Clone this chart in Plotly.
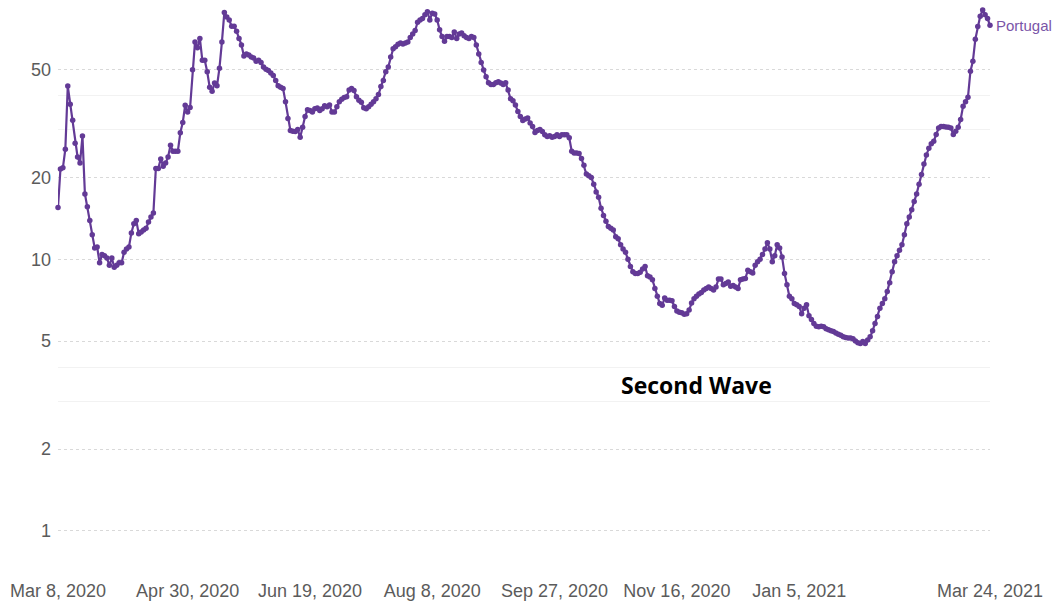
import numpy as np
import pandas as pd
import plotly.graph_objects as go

start_date = "2020-03-08"
country = "Portugal"
values = [
    15.5, 21.5, 21.7, 25.4, 43.4, 37.2, 32.5, 26.7, 23.8, 22.6,
    28.4, 17.4, 15.6, 13.9, 12.3, 11.0, 11.1, 9.7, 10.4, 10.3,
    10.1, 9.5, 10.1, 9.35, 9.5, 9.7, 9.7, 10.6, 10.9, 11.1,
    12.5, 13.5, 13.9, 12.4, 12.6, 12.8, 13.0, 13.7, 14.3, 14.8,
    21.6, 21.6, 23.4, 22.0, 22.6, 23.8, 26.3, 25.0, 25.0, 25.0,
    29.2, 31.9, 36.9, 34.8, 36.2, 49.8, 63, 60, 65, 54,
    54, 49, 43, 41.5, 44.5, 43.5, 50.5, 63, 81, 78,
    76, 72, 72, 69, 65, 61.5, 56, 57, 56.5, 55.5,
    55, 53.5, 54, 53, 51, 50, 49.5, 48.5, 47.5, 45.5,
    43.5, 43, 42.5, 38, 33, 29.8, 29.6, 29.5, 30, 28.1,
    30.6, 33.5, 35.5, 35.3, 34.8, 35.8, 36, 35.3, 35.8, 36.7,
    36.4, 37, 34.8, 34.8, 36.4, 38, 38.8, 39.4, 39.6, 42,
    42.5, 41.8, 39.6, 38.5, 37.8, 36.1, 35.8, 36.4, 37.2, 38,
    39, 40.4, 43.2, 45.5, 49, 51, 55.5, 59.5, 60.5, 61.8,
    62.5, 62, 62.5, 63, 65.5, 67.5, 69.5, 74.5, 76, 77,
    79.5, 81.5, 76, 80.5, 80, 76, 70, 66, 63.5, 66,
    66, 65.5, 68.6, 65, 67.5, 68, 66.5, 65.5, 65, 66,
    65.5, 61.5, 57, 53, 49.7, 47, 44.6, 44, 44, 44.6,
    45, 44.5, 44, 44.6, 42, 39, 38.3, 37, 35, 33.5,
    32.4, 32.8, 33.1, 31.7, 30.8, 29.3, 29.8, 30, 29.5, 28.7,
    28.3, 28.5, 28.1, 28.3, 28.7, 28.3, 28.7, 28.7, 28.7, 28,
    25, 24.6, 24.6, 24.5, 23.5, 22.2, 20.6, 20.3, 20, 18.9,
    17.7, 16.9, 15.4, 14.5, 13.8, 13.2, 13.0, 12.8, 12.1, 11.9,
    11.3, 10.9, 10.6, 10.0, 9.4, 9.0, 8.87, 8.87, 8.95, 9.2,
    9.4, 8.7, 8.6, 8.4, 7.8, 7.3, 6.87, 6.77, 7.2, 7.06,
    7.06, 7.03, 6.7, 6.45, 6.38, 6.35, 6.27, 6.3, 6.5, 6.9,
    7.15, 7.3, 7.45, 7.55, 7.7, 7.8, 7.9, 7.8, 7.7, 7.9,
    8.45, 8.45, 8.05, 8.15, 8.25, 7.95, 8.0, 7.9, 7.8, 8.4,
    8.45, 8.5, 9.1, 9.0, 8.9, 9.5, 9.8, 10.0, 10.4, 10.9,
    11.5, 10.9, 9.8, 10.3, 11.3, 11.0, 10.2, 8.87, 8.05, 7.3,
    7.15, 6.87, 6.8, 6.7, 6.3, 6.6, 6.8, 6.2, 6.0, 5.8,
    5.67, 5.64, 5.67, 5.64, 5.55, 5.5, 5.46, 5.42, 5.35, 5.3,
    5.25, 5.18, 5.15, 5.13, 5.13, 5.1, 5.0, 4.93, 4.9, 4.98,
    4.9, 5.04, 5.18, 5.45, 5.8, 6.15, 6.6, 6.87, 7.15, 7.6,
    8.2, 9.0, 9.8, 10.3, 10.8, 11.3, 12.3, 13.5, 14.3, 15.2,
    16.3, 17.4, 18.9, 20.5, 22.4, 24.2, 25.6, 26.6, 27.2, 28.8,
    30.4, 30.8, 30.8, 30.7, 30.6, 30.4, 28.8, 29.6, 30.6, 32.7,
    36.6, 38, 39.5, 49.2, 53.5, 64.5, 71.9, 78.5, 82.6, 79.5,
    77, 72.6,
]
dates = pd.date_range(start_date, periods=len(values), freq="D")

x_tick_dates = ["2020-03-08", "2020-04-30", "2020-06-19", "2020-08-08",
                "2020-09-27", "2020-11-16", "2021-01-05", "2021-03-24"]
x_tick_labels = ["Mar 8, 2020", "Apr 30, 2020", "Jun 19, 2020", "Aug 8, 2020",
                 "Sep 27, 2020", "Nov 16, 2020", "Jan 5, 2021", "Mar 24, 2021"]
y_ticks = [1, 2, 5, 10, 20, 50]
y_minor = [3, 4, 30, 40]
annotation_text = "Second Wave"
annotation_date = "2020-11-24"
annotation_value = 3.45

purple = "#633a96"

fig = go.Figure()
fig.add_trace(go.Scatter(
    x=dates, y=values, mode="lines+markers",
    line=dict(color=purple, width=2.2),
    marker=dict(color=purple, size=5.5),
    cliponaxis=False, showlegend=False, hoverinfo="skip",
))

fig.add_annotation(
    x=dates[-1], y=np.log10(values[-1]), xref="x", yref="y",
    text=country, showarrow=False, xanchor="left", yanchor="middle",
    xshift=4, yshift=0, font=dict(family="Liberation Sans, Arial", size=15, color="#7a55a8"),
)
fig.add_annotation(
    x=annotation_date, y=np.log10(annotation_value), xref="x", yref="y",
    text="<b>" + annotation_text + "</b>", showarrow=False,
    xanchor="center", yanchor="middle",
    font=dict(family="Open Sans, Lato, sans-serif", size=23, color="#000000"),
)

fig.update_layout(
    width=1057, height=607,
    margin=dict(l=58, r=67, t=0, b=34),
    paper_bgcolor="white", plot_bgcolor="white",
    font=dict(family="Liberation Sans, Arial", size=18, color="#5b5b5b"),
)
fig.update_xaxes(
    range=[x_tick_dates[0], x_tick_dates[-1]],
    tickvals=x_tick_dates, ticktext=x_tick_labels,
    showgrid=False, zeroline=False, showline=False,
    ticks="", ticklabelstandoff=5,
)
fig.update_yaxes(
    type="log", range=[np.log10(0.7), np.log10(90)],
    tickvals=y_ticks, ticktext=[str(v) for v in y_ticks],
    showgrid=True, gridcolor="#d9d9d9", griddash="3px,3px", gridwidth=1,
    zeroline=False, showline=False, ticks="", ticklabelstandoff=6,
    minor=dict(tickvals=y_minor, showgrid=True, gridcolor="#f2f2f2", griddash="solid", ticks=""),
)

fig.write_html("out.html")
